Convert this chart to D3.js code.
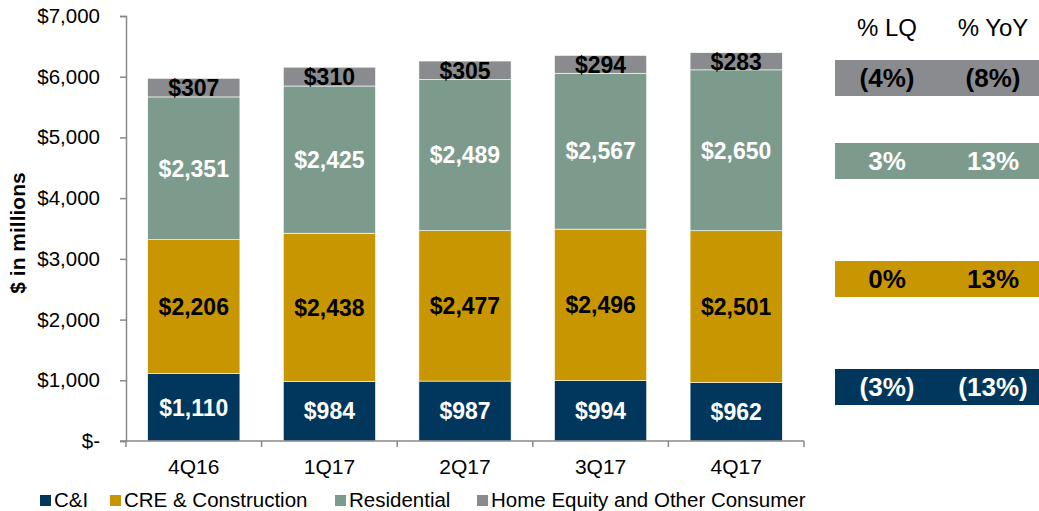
<!DOCTYPE html>
<html>
<head>
<meta charset="utf-8">
<script src="https://cdn.jsdelivr.net/npm/d3@7"></script>
<style>
  body { margin: 0; background: #fff; }
  text { font-family: Arial, "Liberation Sans", sans-serif; }
</style>
</head>
<body>
<script>
// quarters and loan balances ($ in millions)
var quarters = ["4Q16", "1Q17", "2Q17", "3Q17", "4Q17"];
var cni = [1110, 984, 987, 994, 962];
var cre = [2206, 2438, 2477, 2496, 2501];
var residential = [2351, 2425, 2489, 2567, 2650];
var homeEquity = [307, 310, 305, 294, 283];

var seriesNames = ["C&I", "CRE & Construction", "Residential", "Home Equity and Other Consumer"];
var yTicks = [0, 1000, 2000, 3000, 4000, 5000, 6000, 7000];

// change table, top row first (Home Equity, Residential, CRE, C&I)
var tableHeaders = ["% LQ", "% YoY"];
var pctLQ = ["(4%)", "3%", "0%", "(3%)"];
var pctYoY = ["(8%)", "13%", "13%", "(13%)"];

var navy = "rgb(1,55,92)";
var gold = "rgb(200,150,0)";
var green = "rgb(125,155,141)";
var grey = "rgb(137,139,142)";

var colors = [navy, gold, green, grey];
var labelColors = ["#fff", "#000", "#fff", "#000"];

var w = 1039, h = 511;
var svg = d3.select("body").append("svg")
  .attr("width", w)
  .attr("height", h);

var x = d3.scaleBand()
  .domain(quarters)
  .range([126, 804])
  .paddingInner(0.32)
  .paddingOuter(0.16);

var y = d3.scaleLinear()
  .domain([0, 7000])
  .range([441, 16]);

// stacked data
var rows = quarters.map(function(q, i) {
  return { q: q, s0: cni[i], s1: cre[i], s2: residential[i], s3: homeEquity[i] };
});
var stack = d3.stack().keys(["s0", "s1", "s2", "s3"]);
var layers = stack(rows);

var g = svg.selectAll("g.layer")
  .data(layers)
  .enter()
  .append("g")
  .attr("class", "layer")
  .attr("fill", function(d, i) { return colors[i]; });

g.selectAll("rect")
  .data(function(d) { return d; })
  .enter()
  .append("rect")
  .attr("x", function(d) { return x(d.data.q); })
  .attr("y", function(d) { return y(d[1]); })
  .attr("width", x.bandwidth())
  .attr("height", function(d) { return y(d[0]) - y(d[1]); })
  .attr("stroke", "#fff")
  .attr("stroke-width", 0.6);

// segment labels
layers.forEach(function(layer, li) {
  svg.selectAll("text.lab" + li)
    .data(layer)
    .enter()
    .append("text")
    .attr("class", "lab" + li)
    .attr("x", function(d) { return x(d.data.q) + x.bandwidth() / 2; })
    .attr("y", function(d) { return (y(d[0]) + y(d[1])) / 2; })
    .attr("dy", "0.36em")
    .attr("text-anchor", "middle")
    .attr("font-size", 23)
    .attr("font-weight", "bold")
    .attr("fill", labelColors[li])
    .text(function(d) { return "$" + d3.format(",")(d[1] - d[0]); });
});

// y axis
var yAxis = d3.axisLeft(y)
  .tickValues(yTicks)
  .tickSize(6)
  .tickPadding(20)
  .tickFormat(function(d) { return d === 0 ? "$-" : "$" + d3.format(",")(d); });

var ya = svg.append("g")
  .attr("transform", "translate(126,0)")
  .call(yAxis);
ya.select(".domain").attr("stroke", "#888").attr("stroke-width", 1.5);
ya.selectAll(".tick line").attr("stroke", "#888").attr("stroke-width", 1.5);
ya.selectAll(".tick text")
  .attr("font-size", 20.5)
  .attr("fill", "#000")
  .style("font-family", "Arial, 'Liberation Sans', sans-serif");

// x axis line and band ticks
svg.append("line")
  .attr("x1", 120).attr("x2", 804)
  .attr("y1", 441).attr("y2", 441)
  .attr("stroke", "#888").attr("stroke-width", 1.5);

var bounds = quarters.map(function(q) { return x(q) - x.step() * x.paddingInner() / 2; });
bounds.push(804);
svg.selectAll("line.xt")
  .data(bounds)
  .enter()
  .append("line")
  .attr("class", "xt")
  .attr("x1", function(d) { return d; })
  .attr("x2", function(d) { return d; })
  .attr("y1", 441).attr("y2", 447)
  .attr("stroke", "#888").attr("stroke-width", 1.5);

svg.selectAll("text.xl")
  .data(quarters)
  .enter()
  .append("text")
  .attr("class", "xl")
  .attr("x", function(d) { return x(d) + x.bandwidth() / 2; })
  .attr("y", 474)
  .attr("text-anchor", "middle")
  .attr("font-size", 21)
  .text(function(d) { return d; });

// y title
svg.append("text")
  .attr("transform", "translate(25,233) rotate(-90)")
  .attr("text-anchor", "middle")
  .attr("font-size", 21)
  .attr("font-weight", "bold")
  .text("$ in millions");

// legend
var legendX = [40, 110, 335, 477];
var lg = svg.selectAll("g.leg")
  .data(seriesNames)
  .enter()
  .append("g")
  .attr("class", "leg")
  .attr("transform", function(d, i) { return "translate(" + legendX[i] + ",495)"; });
lg.append("rect")
  .attr("width", 11).attr("height", 11)
  .attr("fill", function(d, i) { return colors[i]; });
lg.append("text")
  .attr("x", 14)
  .attr("y", 12)
  .attr("font-size", 20.5)
  .text(function(d) { return d; });

// change table
var colX = [887, 993];
svg.selectAll("text.th")
  .data(tableHeaders)
  .enter()
  .append("text")
  .attr("class", "th")
  .attr("x", function(d, i) { return colX[i]; })
  .attr("y", 36)
  .attr("text-anchor", "middle")
  .attr("font-size", 24)
  .text(function(d) { return d; });

var rowY = [60, 143, 261, 369];
var rowFill = [grey, green, gold, navy];
var rowText = ["#000", "#fff", "#000", "#fff"];
var tr = svg.selectAll("g.tr")
  .data(rowY)
  .enter()
  .append("g")
  .attr("class", "tr")
  .attr("transform", function(d) { return "translate(0," + d + ")"; });
tr.append("rect")
  .attr("x", 835).attr("width", 204)
  .attr("height", 36)
  .attr("fill", function(d, i) { return rowFill[i]; });
tr.append("text")
  .attr("x", colX[0]).attr("y", 18).attr("dy", "0.36em")
  .attr("text-anchor", "middle")
  .attr("font-size", 26).attr("font-weight", "bold")
  .attr("fill", function(d, i) { return rowText[i]; })
  .text(function(d, i) { return pctLQ[i]; });
tr.append("text")
  .attr("x", colX[1]).attr("y", 18).attr("dy", "0.36em")
  .attr("text-anchor", "middle")
  .attr("font-size", 26).attr("font-weight", "bold")
  .attr("fill", function(d, i) { return rowText[i]; })
  .text(function(d, i) { return pctYoY[i]; });
</script>
</body>
</html>
